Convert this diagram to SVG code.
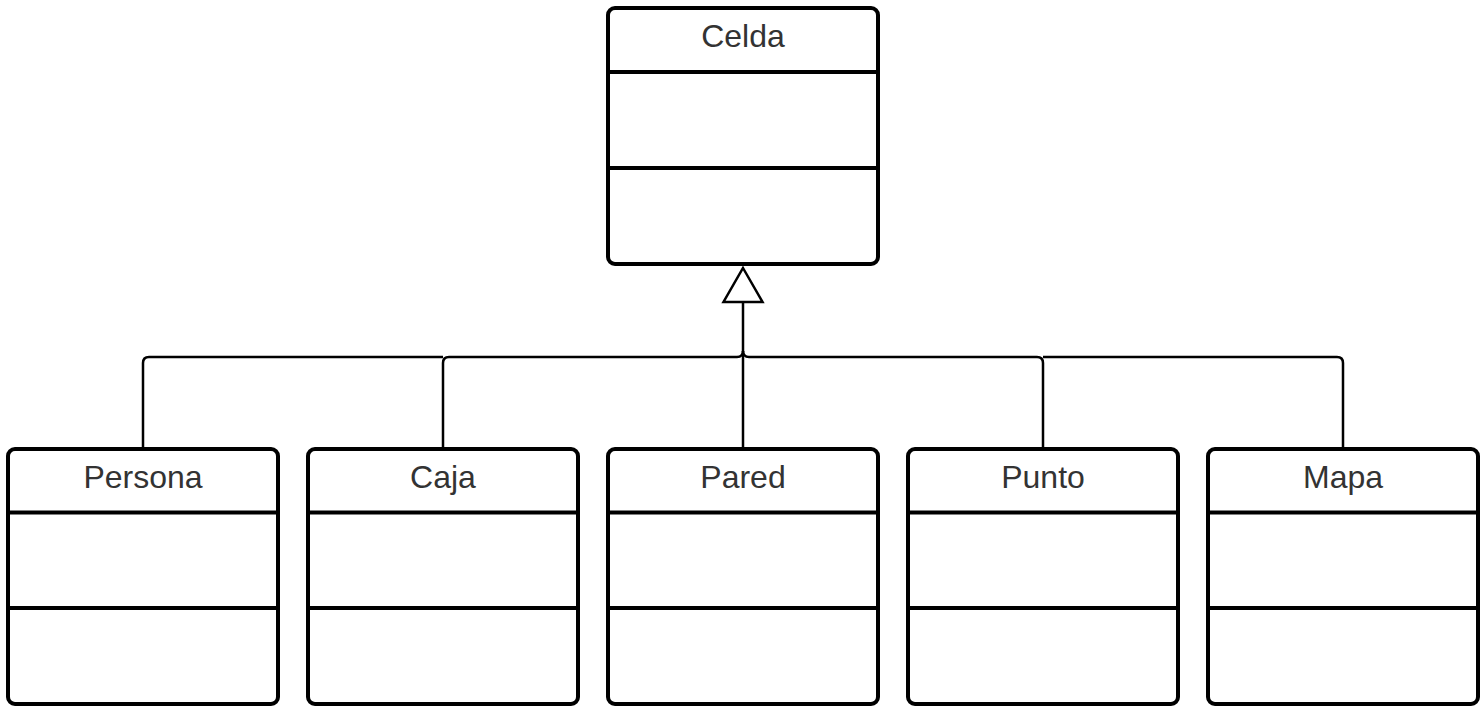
<svg xmlns="http://www.w3.org/2000/svg" width="1483" height="712" viewBox="0 0 1483 712">
<style>
.box{fill:#fff;stroke:#000;stroke-width:4}
.div{stroke:#000;stroke-width:4}
.lbl{font-family:"Liberation Sans",Arial,sans-serif;font-size:32px;fill:#333;text-anchor:middle}
.con{fill:none;stroke:#000;stroke-width:2.5}
.tri{fill:#fff;stroke:#000;stroke-width:2.5}
</style>
<rect width="1483" height="712" fill="#fff"/>
<g id="connectors">
<path class="con" d="M143,449 V363 Q143,357 149,357 H443"/>
<path class="con" d="M443,449 V363 Q443,357 449,357 H737 Q743,357 743,351"/>
<path class="con" d="M743,449 V302"/>
<path class="con" d="M1043,449 V363 Q1043,357 1037,357 H749 Q743,357 743,351"/>
<path class="con" d="M1343,449 V363 Q1343,357 1337,357 H1043"/>
<polygon class="tri" points="743,268 762.5,302 723.5,302"/>
</g>
<g id="Celda">
<rect class="box" x="608" y="8" width="270" height="256" rx="7"/>
<line class="div" x1="608" y1="72" x2="878" y2="72"/>
<line class="div" x1="608" y1="168" x2="878" y2="168"/>
<text class="lbl" x="743" y="47">Celda</text>
</g>
<g id="Persona">
<rect class="box" x="8" y="449" width="270" height="255" rx="7"/>
<line class="div" x1="8" y1="512.5" x2="278" y2="512.5"/>
<line class="div" x1="8" y1="608" x2="278" y2="608"/>
<text class="lbl" x="143" y="488">Persona</text>
</g>
<g id="Caja">
<rect class="box" x="308" y="449" width="270" height="255" rx="7"/>
<line class="div" x1="308" y1="512.5" x2="578" y2="512.5"/>
<line class="div" x1="308" y1="608" x2="578" y2="608"/>
<text class="lbl" x="443" y="488">Caja</text>
</g>
<g id="Pared">
<rect class="box" x="608" y="449" width="270" height="255" rx="7"/>
<line class="div" x1="608" y1="512.5" x2="878" y2="512.5"/>
<line class="div" x1="608" y1="608" x2="878" y2="608"/>
<text class="lbl" x="743" y="488">Pared</text>
</g>
<g id="Punto">
<rect class="box" x="908" y="449" width="270" height="255" rx="7"/>
<line class="div" x1="908" y1="512.5" x2="1178" y2="512.5"/>
<line class="div" x1="908" y1="608" x2="1178" y2="608"/>
<text class="lbl" x="1043" y="488">Punto</text>
</g>
<g id="Mapa">
<rect class="box" x="1208" y="449" width="270" height="255" rx="7"/>
<line class="div" x1="1208" y1="512.5" x2="1478" y2="512.5"/>
<line class="div" x1="1208" y1="608" x2="1478" y2="608"/>
<text class="lbl" x="1343" y="488">Mapa</text>
</g>
</svg>
